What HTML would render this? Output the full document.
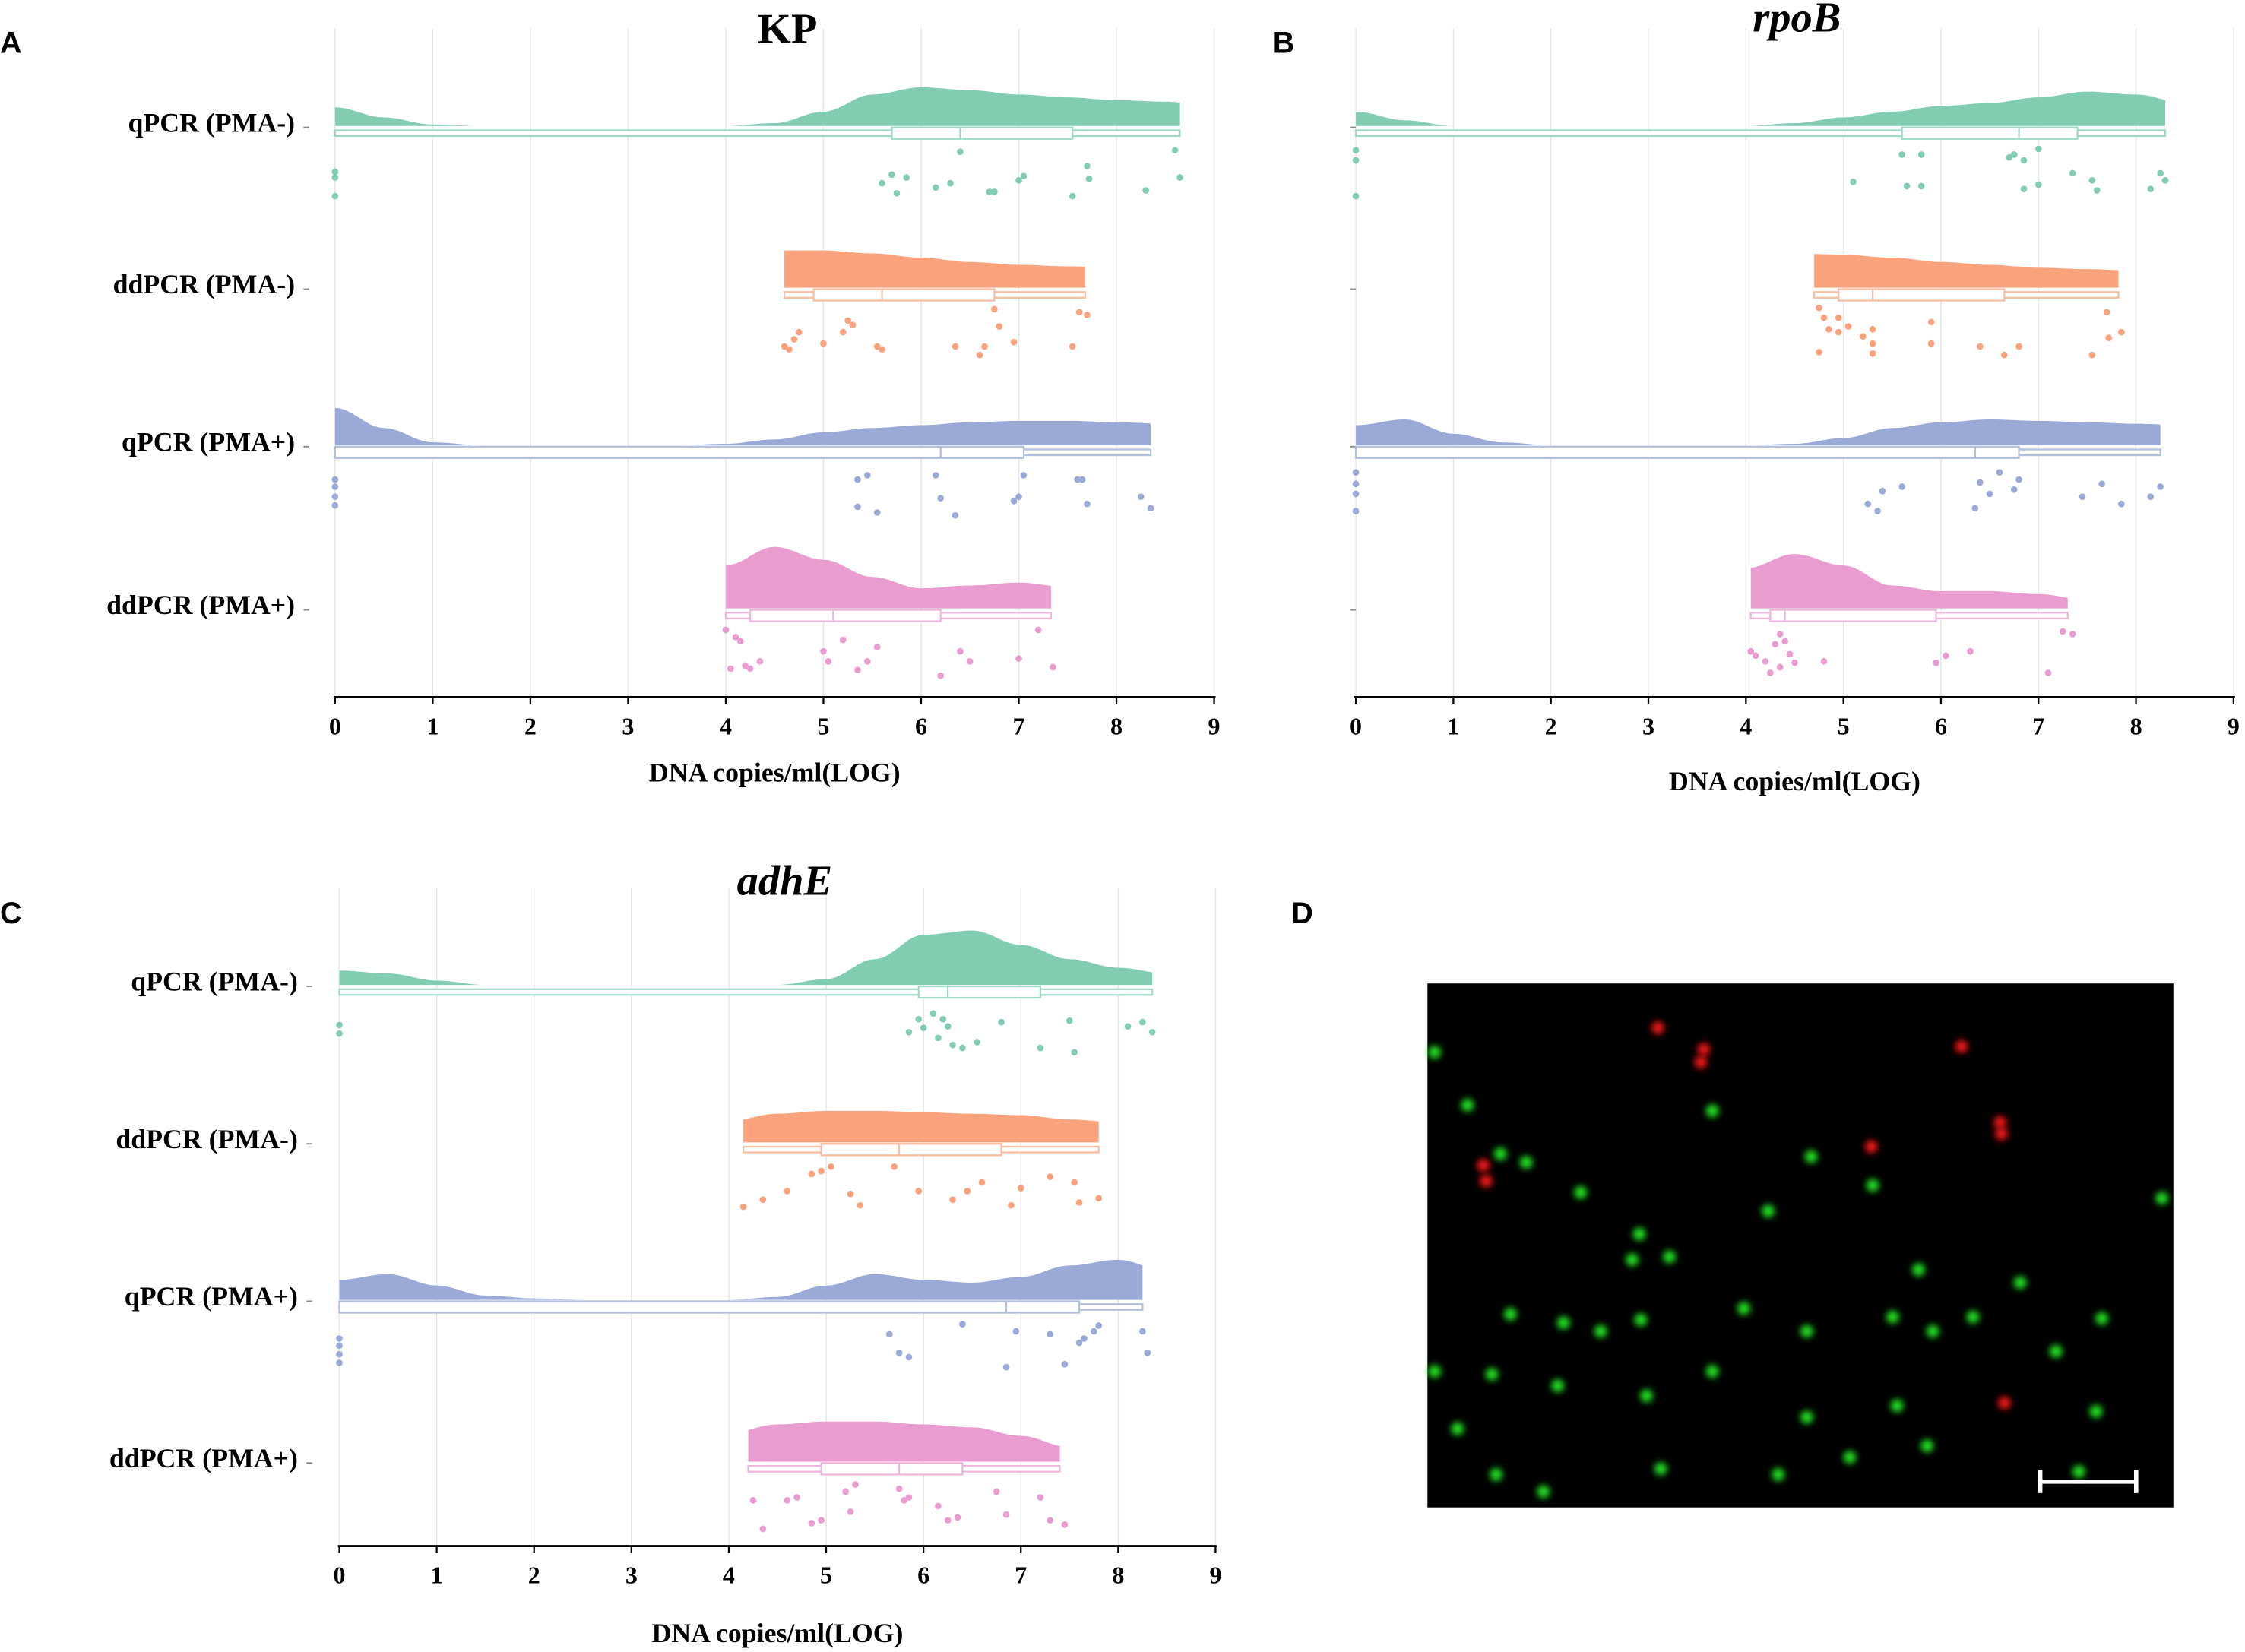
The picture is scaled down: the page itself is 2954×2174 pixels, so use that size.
<!DOCTYPE html>
<html><head><meta charset="utf-8"><style>
html,body{margin:0;padding:0;background:#fff;}
svg{display:block;}
text{font-family:"Liberation Serif",serif;font-weight:bold;}
</style></head><body>
<svg id="fig" xmlns="http://www.w3.org/2000/svg" width="2954" height="2174" viewBox="0 0 1568 1154">
<rect x="0" y="0" width="1568" height="1154" fill="#fff"/>
<g id="charts"></g>
<g id="micro"></g>
</svg>
<script>
// ---------- data ----------
const densGrid = [0,0.5,1,1.5,2,2.5,3,3.5,4,4.5,5,5.5,6,6.5,7,7.5,8,8.5,9];
const rowLabels = ["qPCR (PMA-)","ddPCR (PMA-)","qPCR (PMA+)","ddPCR (PMA+)"];
const tickLabels = ["0","1","2","3","4","5","6","7","8","9"];
const panelTitles = ["KP","rpoB","adhE"];

const rangeA = [[0,8.65],[4.6,7.68],[0,8.35],[4.0,7.33]];
const rangeB = [[0,8.3],[4.7,7.82],[0,8.25],[4.05,7.3]];
const rangeC = [[0,8.35],[4.15,7.8],[0,8.25],[4.2,7.4]];
const densA1 = [13,6,1,0,0,0,0,0,0,2,10,22,27,25,22,20,18,17,14];
const densA2 = [0,0,0,0,0,0,0,0,0,26,26,24,21,18,16,15,14,14,14];
const densA3 = [26,12,2,0,0,0,0,0,1,4,9,12,14,16,17,17,16,15,14];
const densA4 = [0,0,0,0,0,0,0,0,30,43,34,22,14,16,18,15,14,14,14];
const densB1 = [10,4,0,0,0,0,0,0,0,2,6,10,14,16,20,24,22,16,10];
const densB2 = [0,0,0,0,0,0,0,0,0,24,23,21,18,16,14,13,12,12,12];
const densB3 = [14,18,8,2,0,0,0,0,0,1,5,12,16,18,17,16,15,14,10];
const densB4 = [0,0,0,0,0,0,0,0,28,38,30,16,12,12,10,6,6,6,6];
const densC1 = [10,8,3,0,0,0,0,0,0,0,4,18,35,38,28,18,12,8,6];
const densC2 = [0,0,0,0,0,0,0,0,15,20,22,22,21,20,19,16,14,14,14];
const densC3 = [14,18,10,3,1,0,0,0,0,2,10,18,14,12,16,24,28,20,8];
const densC4 = [0,0,0,0,0,0,0,0,20,26,28,28,26,24,18,10,8,8,8];
const boxA = [[0,5.7,6.4,7.55,8.65],[4.6,4.9,5.6,6.75,7.68],[0,0,6.2,7.05,8.35],[4.0,4.25,5.1,6.2,7.33]];
const boxB = [[0,5.6,6.8,7.4,8.3],[4.7,4.95,5.3,6.65,7.82],[0,0,6.35,6.8,8.25],[4.05,4.25,4.4,5.95,7.3]];
const boxC = [[0,5.95,6.25,7.2,8.35],[4.15,4.95,5.75,6.8,7.8],[0,0,6.85,7.6,8.25],[4.2,4.95,5.75,6.4,7.4]];
const ptsA1 = [0,0,0,5.6,5.7,5.75,5.85,6.4,6.15,6.3,6.7,6.75,7.0,7.05,7.55,7.7,7.72,8.3,8.6,8.65];
const jitA1 = [32,36,49,40,34,47,36,18,43,40,46,46,38,35,49,28,37,45,17,36];
const ptsA2 = [4.6,4.65,4.7,4.75,5.0,5.2,5.25,5.3,5.55,5.6,6.35,6.6,6.65,6.8,6.95,7.55,7.62,7.7,6.75];
const jitA2 = [41,43,36,31,39,31,23,26,41,43,41,47,41,27,38,41,17,19,15];
const ptsA3 = [0,0,0,0,5.35,5.45,5.35,5.55,6.15,6.2,6.35,6.95,7.0,7.05,7.6,7.65,7.7,8.25,8.35];
const jitA3 = [24,29,36,42,24,21,43,47,21,37,49,39,36,21,24,24,41,36,44];
const ptsA4 = [4.0,4.1,4.15,4.05,4.2,4.25,4.35,5.0,5.05,5.2,5.35,5.45,5.55,6.2,6.4,6.5,7.0,7.2,7.35];
const jitA4 = [15,20,23,42,40,42,37,30,37,22,43,37,27,47,30,37,35,15,41];
const ptsB1 = [0,0,0,5.1,5.6,5.65,5.8,5.8,6.7,6.75,6.85,6.85,7.0,7.0,7.35,7.55,7.6,8.15,8.25,8.3];
const jitB1 = [17,24,49,39,20,42,42,20,22,20,24,44,41,16,33,38,45,44,33,38];
const ptsB2 = [4.75,4.8,4.85,4.95,4.95,5.05,5.2,5.3,5.3,5.3,4.75,5.9,5.9,6.4,6.65,6.8,7.7,7.72,7.55,7.85];
const jitB2 = [14,21,29,21,31,27,34,29,39,46,45,24,39,41,47,41,17,35,47,31];
const ptsB3 = [0,0,0,0,5.25,5.35,5.4,5.6,6.35,6.4,6.5,6.6,6.75,6.8,7.45,7.65,7.85,8.15,8.25];
const jitB3 = [19,27,34,46,41,46,32,29,44,26,34,19,31,24,36,27,41,36,29];
const ptsB4 = [4.05,4.1,4.2,4.25,4.3,4.35,4.35,4.4,4.45,4.5,4.8,5.95,6.05,6.3,7.1,7.25,7.35];
const jitB4 = [30,33,37,45,25,18,41,23,32,38,37,38,33,30,45,16,18];
const ptsC1 = [0,0,5.85,5.95,6.0,6.1,6.15,6.2,6.25,6.3,6.4,6.55,6.8,7.2,7.5,7.55,8.1,8.25,8.35];
const jitC1 = [28,34,33,24,30,20,37,24,29,42,44,40,26,44,25,47,29,26,33];
const ptsC2 = [4.15,4.35,4.6,4.85,4.95,5.05,5.25,5.35,5.7,5.95,6.3,6.45,6.6,6.9,7.0,7.3,7.55,7.6,7.8];
const jitC2 = [45,40,34,22,20,17,36,44,17,34,40,34,28,44,32,24,28,42,39];
const ptsC3 = [0,0,0,0,5.65,5.75,5.85,6.4,6.85,6.95,7.3,7.45,7.6,7.65,7.75,7.8,8.25,8.3];
const jitC3 = [27,32,38,44,24,37,40,17,47,22,24,45,30,27,22,18,22,37];
const ptsC4 = [4.25,4.35,4.6,4.7,4.85,4.95,5.2,5.3,5.25,5.75,5.8,5.85,6.15,6.25,6.35,6.75,6.85,7.2,7.3,7.45];
const jitC4 = [27,47,27,25,43,41,21,16,35,19,27,25,31,41,39,21,37,25,41,44];

// ---------- layout ----------
const colors = [["#82cdb1","#9ed9c3"],["#f9a27c","#fbbd9f"],["#9aa9d6","#b3c0e2"],["#e89ccf","#eeb6dc"]];
const panels = [
 {id:"a",x0:234,x1:848,axisY:487,top:20,base:[88,201,311,425],labelX:212,showLabels:true,title:0,titleX:550,titleY:30,italic:false,letter:"A",lx:0,ly:37,xtitleY:546,
  ranges:rangeA,dens:[densA1,densA2,densA3,densA4],box:boxA,pts:[ptsA1,ptsA2,ptsA3,ptsA4],jit:[jitA1,jitA2,jitA3,jitA4]},
 {id:"b",x0:947,x1:1560,axisY:487,top:20,base:[88,201,311,425],labelX:943,showLabels:false,title:1,titleX:1255,titleY:22,italic:true,letter:"B",lx:889,ly:37,xtitleY:552,
  ranges:rangeB,dens:[densB1,densB2,densB3,densB4],box:boxB,pts:[ptsB1,ptsB2,ptsB3,ptsB4],jit:[jitB1,jitB2,jitB3,jitB4]},
 {id:"c",x0:237,x1:849,axisY:1080,top:620,base:[688,798,908,1021],labelX:214,showLabels:true,title:2,titleX:548,titleY:625,italic:true,letter:"C",lx:0,ly:645,xtitleY:1147,
  ranges:rangeC,dens:[densC1,densC2,densC3,densC4],box:boxC,pts:[ptsC1,ptsC2,ptsC3,ptsC4],jit:[jitC1,jitC2,jitC3,jitC4]}
];
const NS="http://www.w3.org/2000/svg";
function mk(tag,attrs,parent){const e=document.createElementNS(NS,tag);for(const k in attrs)e.setAttribute(k,attrs[k]);parent.appendChild(e);return e;}
function interp(arr,v){const s=densGrid[1]-densGrid[0];let i=Math.floor(v/s);if(i>=arr.length-1)return arr[arr.length-1];const t=(v-densGrid[i])/s;const c=(1-Math.cos(t*Math.PI))/2;return arr[i]*(1-c)+arr[i+1]*c;}
const root=document.getElementById("charts");
panels.forEach(p=>{
 const g=mk("g",{},root);
 
 
 const sx=v=>p.x0+v*(p.x1-p.x0)/9;
 tickLabels.forEach((t,i)=>{const gl=mk("line",{x1:sx(i),x2:sx(i),y1:p.top,y2:p.axisY,stroke:"#e6e6e6","stroke-width":0.8},g);
  
  });
 const L=mk("text",{x:p.lx,y:p.ly,"font-size":21,style:"font-family:'Liberation Sans',sans-serif;font-weight:bold"},g);L.textContent=p.letter;
 
 
 const T=mk("text",{x:p.titleX,y:p.titleY,"font-size":30,"text-anchor":"middle","font-style":p.italic?"italic":"normal"},g);T.textContent=panelTitles[p.title];
 
 
 for(let r=0;r<4;r++){
  const b=p.base[r],[lo,hi]=p.ranges[r],d=p.dens[r],bx=p.box[r],col=colors[r];
  const rg=mk("g",{},g);
  
  
  if(p.showLabels){const t=mk("text",{x:p.labelX-6,y:b+4,"font-size":19,"text-anchor":"end"},rg);t.textContent=rowLabels[r];
   
   }
  mk("line",{x1:p.labelX,x2:p.labelX+4,y1:b+1,y2:b+1,stroke:"#888","stroke-width":1},rg);
  let path=`M${sx(lo)},${b}`;
  for(let v=lo;v<=hi+1e-9;v+=0.05)path+=` L${sx(v).toFixed(2)},${(b-interp(d,v)).toFixed(2)}`;
  path+=` L${sx(hi)},${b-interp(d,hi)} L${sx(hi)},${b} Z`;
  const de=mk("path",{d:path,fill:col[0]},rg);
  
  
  const wy=b+3;
  const wh=mk("rect",{x:sx(bx[0]),y:wy,width:sx(bx[4])-sx(bx[0]),height:4,fill:"#fff",stroke:col[1],"stroke-width":1.2},rg);
  
  
  const bo=mk("rect",{x:sx(bx[1]),y:b+1,width:Math.max(sx(bx[3])-sx(bx[1]),0.5),height:8,fill:"#fff",stroke:col[1],"stroke-width":1.2},rg);
  
  
  const me=mk("line",{x1:sx(bx[2]),x2:sx(bx[2]),y1:b+1,y2:b+9,stroke:col[1],"stroke-width":1.2},rg);
  
  
  p.pts[r].forEach((v,i)=>{const c=mk("circle",{cx:sx(v),cy:b+p.jit[r][i],r:2.3,fill:col[0]},rg);
   
   });
 }
 const ax=mk("g",{},g);
 
 
 mk("line",{x1:p.x0-1,x2:p.x1+1,y1:p.axisY,y2:p.axisY,stroke:"#000","stroke-width":1.5},ax);
 tickLabels.forEach((t,i)=>{mk("line",{x1:sx(i),x2:sx(i),y1:p.axisY,y2:p.axisY+5,stroke:"#000","stroke-width":1.2},ax);
  const tl=mk("text",{x:sx(i),y:p.axisY+26,"font-size":17,"text-anchor":"middle"},ax);tl.textContent=t;
  
  });
 const xt=mk("text",{x:(p.x0+p.x1)/2,y:p.xtitleY,"font-size":19,"text-anchor":"middle"},g);xt.textContent="DNA copies/ml(LOG)";
 
 
});
// panel D
const mg=document.getElementById("micro");
const D=mk("text",{x:902,y:645,"font-size":21,style:"font-family:'Liberation Sans',sans-serif;font-weight:bold"},mg);D.textContent="D";


const defs=mk("defs",{},mg);
const f=mk("filter",{id:"bl",x:"-1",y:"-1",width:"3",height:"3"},defs);mk("feGaussianBlur",{stdDeviation:"2.2"},f);
mk("rect",{x:997,y:687,width:521,height:366,fill:"#000"},mg);
const spotX=[1002,1025,1048,1066,1104,1140,1145,1166,1196,1265,1308,1340,1411,1468,1510,1055,1092,1118,1146,1218,1262,1322,1350,1378,1436,1002,1042,1088,1150,1196,1262,1325,1464,1018,1045,1160,1242,1292,1346,1452,1078,1235];
const spotY=[735,772,806,812,833,880,862,878,776,808,828,887,896,921,837,918,924,930,922,914,930,920,930,920,944,958,960,968,975,958,990,982,986,998,1030,1026,1030,1018,1010,1028,1042,846];
const redX=[1036,1038,1190,1188,1307,1397,1398,1370,1400,1158];
const redY=[814,825,733,742,801,784,792,731,980,718];
spotX.forEach((x,i)=>{const c=mk("circle",{cx:x,cy:spotY[i],r:4.5,fill:"#22e022",filter:"url(#bl)"},mg);
 
 });
redX.forEach((x,i)=>{const c=mk("circle",{cx:x,cy:redY[i],r:4.5,fill:"#ee1414",filter:"url(#bl)"},mg);
 
 });
const sb=mk("path",{d:"M1425,1035 L1492,1035 M1425,1027 L1425,1043 M1492,1027 L1492,1043",stroke:"#fff","stroke-width":3,fill:"none"},mg);


</script>
</body></html>
